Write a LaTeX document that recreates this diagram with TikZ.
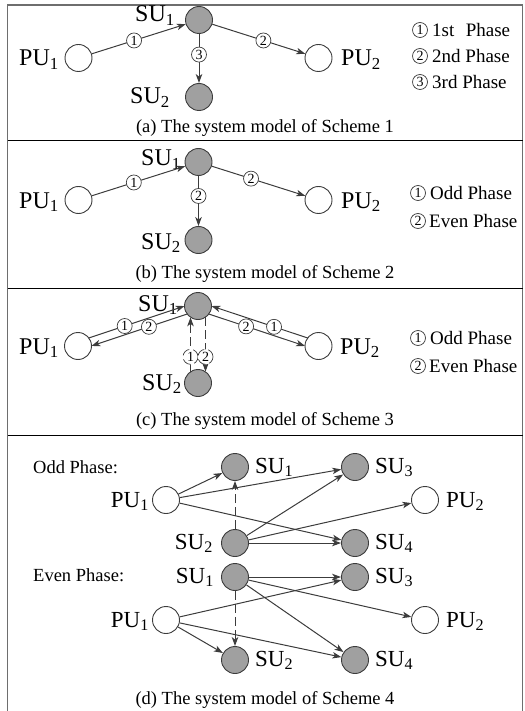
\documentclass[tikz,border=0pt]{standalone}
\usepackage{fontspec}
\setmainfont{Liberation Serif}
\usetikzlibrary{arrows.meta,calc}
\definecolor{ln}{RGB}{60,60,60}
\definecolor{sufill}{RGB}{160,160,160}
\definecolor{frm}{RGB}{110,110,110}
\begin{document}
\begin{tikzpicture}[x=1pt,y=-1pt,
  su/.style={circle,draw=ln,fill=sufill,line width=0.9pt,minimum size=27pt,inner sep=0pt},
  pu/.style={circle,draw=ln,fill=white,line width=0.9pt,minimum size=27pt,inner sep=0pt},
  lab/.style={font=\fontsize{24}{24}\selectfont,inner sep=0pt},
  labd/.style={font=\fontsize{23}{23}\selectfont,inner sep=0pt},
  num/.style={circle,draw=ln,fill=white,line width=0.7pt,minimum size=15pt,inner sep=0pt,font=\fontsize{14}{14}\selectfont},
  arr/.style={draw=ln,line width=1pt,-{Stealth[length=9pt,width=6.5pt,inset=2.5pt]}},
  dsh/.style={dash pattern=on 9pt off 4pt},
  captxt/.style={font=\fontsize{18.5}{18.5}\selectfont,inner sep=0pt},
  leg/.style={font=\fontsize{19}{19}\selectfont,inner sep=0pt,anchor=west},
  sep/.style={draw=black,line width=0.8pt}
]
\useasboundingbox (0,0) rectangle (524,711);
% frame
\draw[frm,line width=1.6pt] (7.5,711) -- (7.5,5) -- (522.5,5) -- (522.5,711);
\coordinate (s1l) at (7.5,140); \coordinate (s1r) at (522.5,140);
\coordinate (s2l) at (7.5,288); \coordinate (s2r) at (522.5,288);
\coordinate (s3l) at (7.5,435); \coordinate (s3r) at (522.5,435);
\draw[sep] (s1l) -- (s1r);
\draw[sep] (s2l) -- (s2r);
\draw[sep] (s3l) -- (s3r);

% ---------- panel (a)
\node[pu] (aP1) at (78.5,58) {};
\node[su] (aS1) at (199,20) {};
\node[su] (aS2) at (199,97) {};
\node[pu] (aP2) at (318.5,58) {};
\node[lab,anchor=base east] (aP1l) at (59,66) {PU\textsubscript{1}};
\node[lab,anchor=base east] (aS1l) at (175,22) {SU\textsubscript{1}};
\node[lab,anchor=base east] (aS2l) at (170,104) {SU\textsubscript{2}};
\node[lab,anchor=base west] (aP2l) at (341,66) {PU\textsubscript{2}};
\draw[arr] (aP1) -- node[num,pos=0.45] (an1) {1} (aS1);
\draw[arr] (aS1) -- node[num,pos=0.55] (an2) {2} (aP2);
\draw[arr] (aS1) -- node[num,pos=0.42] (an3) {3} (aS2);
\node[num] (al1) at (420,30) {1};
\node[leg] (al1t) at (432,30) {1st\hspace{0.35em} Phase};
\node[num] (al2) at (420,56) {2};
\node[leg] (al2t) at (432,56) {2nd Phase};
\node[num] (al3) at (420,82) {3};
\node[leg] (al3t) at (432,82) {3rd Phase};
\node[captxt] (capa) at (265,128) {(a) The system model of Scheme 1};

% ---------- panel (b)
\node[pu] (bP1) at (78.5,200) {};
\node[su] (bS1) at (198.5,162) {};
\node[su] (bS2) at (198.5,240) {};
\node[pu] (bP2) at (318.5,200) {};
\node[lab,anchor=base east] (bP1l) at (59,208) {PU\textsubscript{1}};
\node[lab,anchor=base east] (bS1l) at (181,166) {SU\textsubscript{1}};
\node[lab,anchor=base east] (bS2l) at (181,249) {SU\textsubscript{2}};
\node[lab,anchor=base west] (bP2l) at (341,208) {PU\textsubscript{2}};
\draw[arr] (bP1) -- node[num,pos=0.45] (bn1) {1} (bS1);
\draw[arr] (bS1) -- node[num,pos=0.42] (bn2) {2} (bP2);
\draw[arr] (bS1) -- node[num,pos=0.4] (bn3) {2} (bS2);
\node[num] (bl1) at (418,193) {1};
\node[leg] (bl1t) at (430,193) {Odd Phase};
\node[num] (bl2) at (418,221) {2};
\node[leg] (bl2t) at (429,221) {Even Phase};
\node[captxt] (capb) at (265,274) {(b) The system model of Scheme 2};

% ---------- panel (c)
\node[pu] (cP1) at (78,346) {};
\node[su] (cS1) at (198,306) {};
\node[su] (cS2) at (198,383) {};
\node[pu] (cP2) at (318.5,346) {};
\node[lab,anchor=base east] (cP1l) at (59,354) {PU\textsubscript{1}};
\node[lab,anchor=base east] (cS1l) at (178,311) {SU\textsubscript{1}};
\node[lab,anchor=base east] (cS2l) at (182,390) {SU\textsubscript{2}};
\node[lab,anchor=base west] (cP2l) at (340,354) {PU\textsubscript{2}};
% left pair
\draw[arr,shorten <=12.8pt,shorten >=12.8pt] ($(cP1.center)!4.2pt!90:(cS1.center)$) -- node[num,pos=0.4] (cn1) {1} ($(cS1.center)!4.2pt!-90:(cP1.center)$);
\draw[arr,shorten <=12.8pt,shorten >=12.8pt] ($(cS1.center)!4.2pt!90:(cP1.center)$) -- node[num,pos=0.42] (cn2) {2} ($(cP1.center)!4.2pt!-90:(cS1.center)$);
% right pair
\draw[arr,shorten <=12.8pt,shorten >=12.8pt] ($(cP2.center)!4.2pt!-90:(cS1.center)$) -- node[num,pos=0.38] (cn3) {1} ($(cS1.center)!4.2pt!90:(cP2.center)$);
\draw[arr,shorten <=12.8pt,shorten >=12.8pt] ($(cS1.center)!4.2pt!-90:(cP2.center)$) -- node[num,pos=0.41] (cn4) {2} ($(cP2.center)!4.2pt!90:(cS1.center)$);
% vertical pair
\draw[arr,dsh,shorten <=11.3pt,shorten >=11.3pt] ($(cS2.center)+(-7.5,0)$) -- node[num,pos=0.34] (cn5) {1} ($(cS1.center)+(-7.5,0)$);
\draw[arr,dsh,shorten <=11.3pt,shorten >=11.3pt] ($(cS1.center)+(7.5,0)$) -- node[num,pos=0.66] (cn6) {2} ($(cS2.center)+(7.5,0)$);
\node[num] (cl1) at (418,338) {1};
\node[leg] (cl1t) at (430,338) {Odd Phase};
\node[num] (cl2) at (418,366) {2};
\node[leg] (cl2t) at (429,366) {Even Phase};
\node[captxt] (capc) at (265,421) {(c) The system model of Scheme 3};

% ---------- panel (d) odd
\node[captxt,anchor=west] (oddt) at (33,467) {Odd Phase:};
\node[su] (oS1) at (235,467) {};
\node[su] (oS3) at (355,467) {};
\node[pu] (oP1) at (166,500) {};
\node[pu] (oP2) at (425,500) {};
\node[su] (oS2) at (235,543) {};
\node[su] (oS4) at (355,543) {};
\node[labd,anchor=base west] (oS1l) at (255,473) {SU\textsubscript{1}};
\node[labd,anchor=base west] (oS3l) at (375,473) {SU\textsubscript{3}};
\node[labd,anchor=base east] (oP1l) at (149,507) {PU\textsubscript{1}};
\node[labd,anchor=base west] (oP2l) at (446,507) {PU\textsubscript{2}};
\node[labd,anchor=base east] (oS2l) at (213,549) {SU\textsubscript{2}};
\node[labd,anchor=base west] (oS4l) at (375,549) {SU\textsubscript{4}};
\draw[arr] (oP1) -- (oS1);
\draw[arr] (oP1) -- (oS3);
\draw[arr] (oP1) -- (oS4);
\draw[arr,dsh] (oS2) -- (oS1);
\draw[arr] (oS2) -- (oS3);
\draw[arr] (oS2) -- (oP2);
\draw[arr] (oS2) -- (oS4);

% ---------- panel (d) even
\node[captxt,anchor=west] (event) at (33,575) {Even Phase:};
\node[su] (eS1) at (235,577) {};
\node[su] (eS3) at (355,577) {};
\node[pu] (eP1) at (166,620) {};
\node[pu] (eP2) at (425,620) {};
\node[su] (eS2) at (235,660) {};
\node[su] (eS4) at (355,660) {};
\node[labd,anchor=base east] (eS1l) at (214,583) {SU\textsubscript{1}};
\node[labd,anchor=base west] (eS3l) at (375,583) {SU\textsubscript{3}};
\node[labd,anchor=base east] (eP1l) at (149,627) {PU\textsubscript{1}};
\node[labd,anchor=base west] (eP2l) at (446,627) {PU\textsubscript{2}};
\node[labd,anchor=base west] (eS2l) at (255,666) {SU\textsubscript{2}};
\node[labd,anchor=base west] (eS4l) at (375,666) {SU\textsubscript{4}};
\draw[arr] (eS1) -- (eS3);
\draw[arr] (eS1) -- (eP2);
\draw[arr] (eS1) -- (eS4);
\draw[arr,dsh] (eS1) -- (eS2);
\draw[arr] (eP1) -- (eS3);
\draw[arr] (eP1) -- (eS2);
\draw[arr] (eP1) -- (eS4);
\node[captxt] (capd) at (265,700) {(d) The system model of Scheme 4};
\end{tikzpicture}
\end{document}
